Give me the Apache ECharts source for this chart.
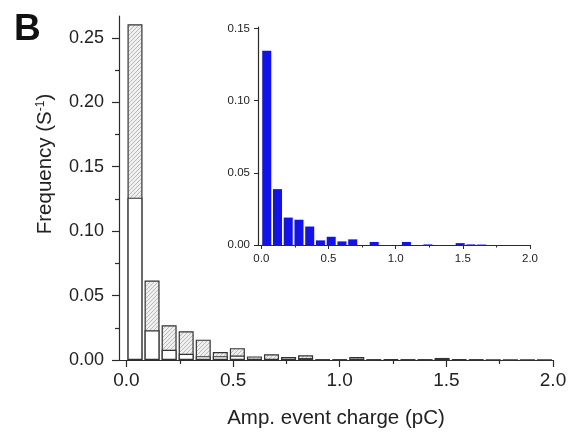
<!DOCTYPE html>
<html>
<head>
<meta charset="utf-8">
<script src="https://cdn.jsdelivr.net/npm/echarts@6/dist/echarts.min.js"></script>
<style>html,body{margin:0;padding:0;background:#fff}#c{width:572px;height:435px}</style>
</head>
<body>
<div id="c"></div>
<script>
// Bin centres (pC), bin width 0.08
const binCenters = [0.04, 0.12, 0.20, 0.28, 0.36, 0.44, 0.52, 0.60, 0.68, 0.76, 0.84, 0.92, 1.00, 1.08, 1.16, 1.24, 1.32, 1.40, 1.48, 1.56, 1.64, 1.72, 1.80, 1.88, 1.96];
// Main chart: open (white) bars
const openValues = [0.126, 0.023, 0.008, 0.0048, 0.003, 0.003, 0.0035, 0.0003, 0.0005, 0.0023, 0.0015, 0.0003, 0.0003, 0.0002, 0.0002, 0.0002, 0.0002, 0.0001, 0.0003, 0.0002, 0.0001, 0, 0, 0, 0];
// Hatched part (on top of open bars) = inset blue bars
const hatchedValues = [0.1345, 0.0387, 0.019, 0.0175, 0.0128, 0.0032, 0.0057, 0.0025, 0.0039, 0, 0.0021, 0, 0, 0.0021, 0, 0.0004, 0, 0, 0.0013, 0.0004, 0.0003, 0, 0, 0, 0];
// Tick labels
const mainXTicks = [0, 0.5, 1.0, 1.5, 2.0];
const mainXMinor = [0.25, 0.75, 1.25, 1.75];
const mainYTicks = [0, 0.05, 0.10, 0.15, 0.20, 0.25];
const mainYMinor = [0.025, 0.075, 0.125, 0.175, 0.225];
const insetXTicks = [0, 0.5, 1.0, 1.5, 2.0];
const insetXMinor = [0.25, 0.75, 1.25, 1.75];
const insetYTicks = [0, 0.05, 0.10, 0.15];

const FONT = 'Liberation Sans, Arial, sans-serif';
const AX = '#2b2b2b';

const pc = document.createElement('canvas');
pc.width = 4; pc.height = 4;
const ctx = pc.getContext('2d');
ctx.fillStyle = '#efefef'; ctx.fillRect(0, 0, 4, 4);
ctx.strokeStyle = '#a4a4a4'; ctx.lineWidth = 0.7;
ctx.beginPath();
ctx.moveTo(0, 4); ctx.lineTo(4, 0);
ctx.moveTo(-1, 1); ctx.lineTo(1, -1);
ctx.moveTo(3, 5); ctx.lineTo(5, 3);
ctx.stroke();

const zip = vals => binCenters.map((c, i) => [c, vals[i]]);
// stacked top of the hatched segment = open + hatched
const stackedTop = binCenters.map((c, i) => [c, openValues[i] + hatchedValues[i]]);

function axisBase(extra) {
  return Object.assign({
    type: 'value',
    splitLine: { show: false },
    axisLine: { show: true, onZero: false, lineStyle: { color: AX, width: 1.2 } },
  }, extra);
}

const chart = echarts.init(document.getElementById('c'), null, { renderer: 'canvas' });
chart.setOption({
  animation: false,
  backgroundColor: '#ffffff',
  title: {
    text: 'B', left: 9, top: 6,
    textStyle: { fontFamily: FONT, fontWeight: 'bold', fontSize: 37, color: '#111' }
  },
  grid: [
    { left: 119, right: 19, top: 16, bottom: 75 },
    { left: 258, right: 42, top: 27, bottom: 190 }
  ],
  xAxis: [
    axisBase({
      gridIndex: 0, position: 'bottom', min: -0.035, max: 2.0,
      axisTick: { show: true, length: 7, customValues: mainXTicks, lineStyle: { color: AX, width: 1.2 } },
      axisLabel: { customValues: mainXTicks, margin: 11, fontFamily: FONT, fontSize: 19, color: '#222',
        formatter: v => v.toFixed(1) },
      name: 'Amp. event charge (pC)', nameLocation: 'middle', nameGap: 48,
      nameTextStyle: { fontFamily: FONT, fontSize: 20.5, color: '#222' }
    }),
    axisBase({
      gridIndex: 0, position: 'bottom', min: -0.035, max: 2.0,
      axisLine: { show: false, onZero: false },
      axisTick: { show: true, length: 4, customValues: mainXMinor, lineStyle: { color: AX, width: 1.2 } },
      axisLabel: { show: false }
    }),
    axisBase({
      gridIndex: 1, position: 'bottom', min: -0.025, max: 2.0,
      axisTick: { show: true, length: 4, customValues: insetXTicks, lineStyle: { color: AX, width: 1 } },
      axisLabel: { customValues: insetXTicks, margin: 8, fontFamily: FONT, fontSize: 11.5, color: '#222',
        formatter: v => v.toFixed(1) }
    }),
    axisBase({
      gridIndex: 1, position: 'bottom', min: -0.025, max: 2.0,
      axisLine: { show: false, onZero: false },
      axisTick: { show: true, length: 2.5, customValues: insetXMinor, lineStyle: { color: AX, width: 1 } },
      axisLabel: { show: false }
    })
  ],
  yAxis: [
    axisBase({
      gridIndex: 0, position: 'left', min: 0, max: 0.267,
      axisTick: { show: true, length: 7, customValues: mainYTicks, lineStyle: { color: AX, width: 1.2 } },
      axisLabel: { customValues: mainYTicks, margin: 15, fontFamily: FONT, fontSize: 18, color: '#222',
        formatter: v => v.toFixed(2) },
      name: 'Frequency (S{sup|-1})', nameLocation: 'middle', nameGap: 63,
      nameTextStyle: {
        fontFamily: FONT, fontSize: 20.5, color: '#222', padding: [0, 0, 0, 48],
        rich: { sup: { fontFamily: FONT, fontSize: 12, color: '#222', verticalAlign: 'top', padding: [0, 0, 9, 0] } }
      }
    }),
    axisBase({
      gridIndex: 0, position: 'left', min: 0, max: 0.267,
      axisLine: { show: false, onZero: false },
      axisTick: { show: true, length: 4, customValues: mainYMinor, lineStyle: { color: AX, width: 1.2 } },
      axisLabel: { show: false }
    }),
    axisBase({
      gridIndex: 1, position: 'left', min: 0, max: 0.151,
      axisTick: { show: true, length: 4, customValues: insetYTicks, lineStyle: { color: AX, width: 1 } },
      axisLabel: { customValues: insetYTicks, margin: 8, fontFamily: FONT, fontSize: 11.5, color: '#222',
        formatter: v => v.toFixed(2) }
    })
  ],
  series: [
    {
      type: 'bar', xAxisIndex: 0, yAxisIndex: 0, barWidth: 15, barGap: '-100%', z: 2,
      data: stackedTop,
      itemStyle: { color: { image: pc, repeat: 'repeat' }, borderColor: '#333', borderWidth: 1.2 }
    },
    {
      type: 'bar', xAxisIndex: 0, yAxisIndex: 0, barWidth: 15, barGap: '-100%', z: 3,
      data: zip(openValues),
      itemStyle: { color: '#ffffff', borderColor: '#333', borderWidth: 1.2 }
    },
    {
      type: 'bar', xAxisIndex: 2, yAxisIndex: 2, barWidth: 9,
      data: zip(hatchedValues),
      itemStyle: { color: '#1212ec' }
    }
  ]
});
</script>
</body>
</html>
